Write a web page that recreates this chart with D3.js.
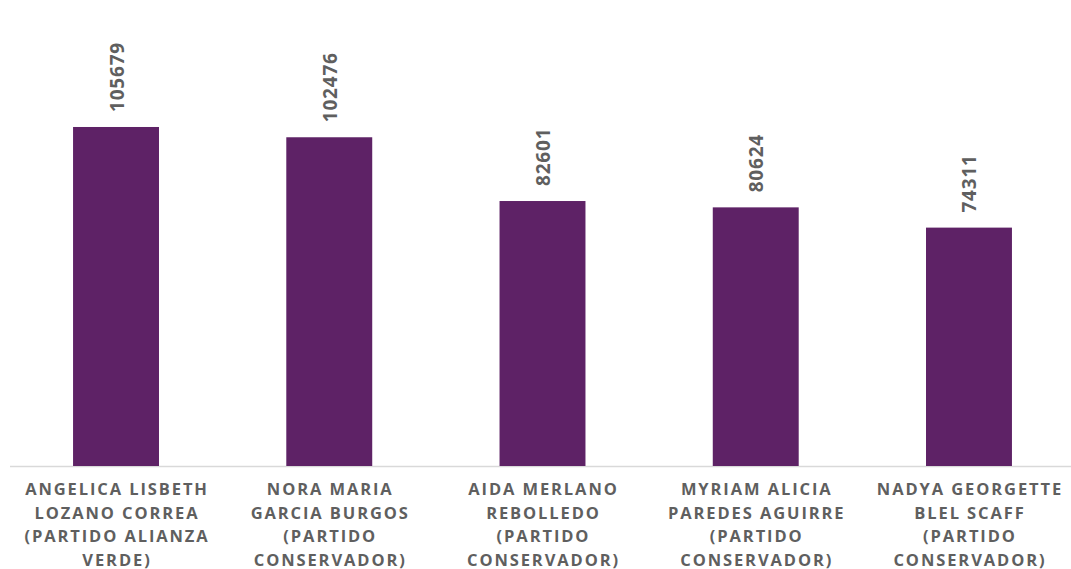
<!DOCTYPE html>
<html><head><meta charset="utf-8">
<script src="https://cdn.jsdelivr.net/npm/d3@7"></script>
<style>body{margin:0;background:#fff;}</style>
</head><body>
<svg id="c" width="1071" height="569"></svg>
<script>
const categories = [
  ["ANGELICA LISBETH","LOZANO CORREA","(PARTIDO ALIANZA","VERDE)"],
  ["NORA MARIA","GARCIA BURGOS","(PARTIDO","CONSERVADOR)"],
  ["AIDA MERLANO","REBOLLEDO","(PARTIDO","CONSERVADOR)"],
  ["MYRIAM ALICIA","PAREDES AGUIRRE","(PARTIDO","CONSERVADOR)"],
  ["NADYA GEORGETTE","BLEL SCAFF","(PARTIDO","CONSERVADOR)"]
];
const votes = [105679, 102476, 82601, 80624, 74311];

const svg = d3.select("#c");
const base = 466;
const x = d3.scaleBand().domain(d3.range(categories.length)).range([9.4, 1075.6]).paddingInner(0.597).paddingOuter(0.2985);
const y = d3.scaleLinear().domain([0, 139030]).range([base, 20]);

svg.append("line").attr("x1", 10).attr("x2", 1071).attr("y1", base + 0.5).attr("y2", base + 0.5)
  .attr("stroke", "#d9d9d9").attr("stroke-width", 1.5);

svg.selectAll("rect.bar").data(votes).join("rect").attr("class","bar")
  .attr("x", (d,i) => x(i)).attr("width", x.bandwidth())
  .attr("y", d => y(d)).attr("height", d => base - y(d))
  .attr("fill", "#5e2266");

svg.selectAll("text.val").data(votes).join("text").attr("class","val")
  .attr("transform", (d,i) => `translate(${x(i) + x.bandwidth()/2 + 7.5},${y(d) - 15}) rotate(-90)`)
  .attr("text-anchor", "start")
  .attr("font-family", "Open Sans, sans-serif").attr("font-weight", "bold")
  .attr("font-size", 19).attr("letter-spacing", "0.8px").attr("fill", "#5f5f5f")
  .text(d => d);

const g = svg.selectAll("g.cat").data(categories).join("g").attr("class","cat");
g.each(function(lines, i){
  const t = d3.select(this).append("text")
    .attr("text-anchor","middle")
    .attr("font-family","Open Sans, sans-serif").attr("font-weight","bold")
    .attr("font-size",16.5).attr("letter-spacing","1.9px").attr("fill","#5f5f5f");
  lines.forEach((l, k) => {
    t.append("tspan").attr("x", x(i) + x.bandwidth()/2 + 1).attr("y", 495 + k*23.5).text(l);
  });
});
</script>
</body></html>
